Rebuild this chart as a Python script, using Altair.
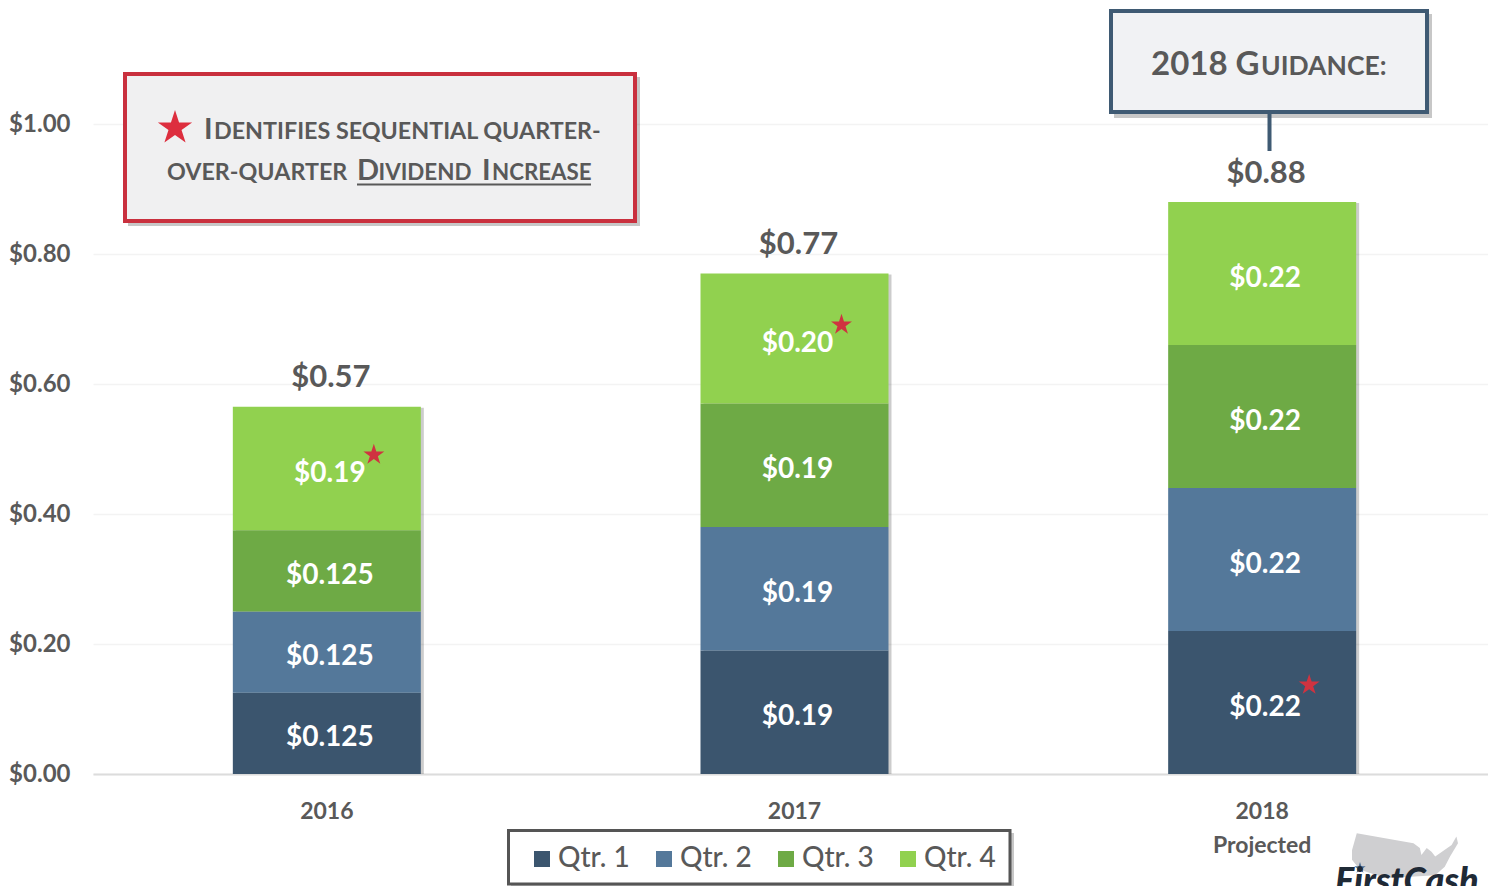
import altair as alt
import pandas as pd

# ---- data ----
years = ["2016", "2017", "2018"]
quarters = ["Qtr. 1", "Qtr. 2", "Qtr. 3", "Qtr. 4"]
q1 = [0.125, 0.19, 0.22]
q2 = [0.125, 0.19, 0.22]
q3 = [0.125, 0.19, 0.22]
q4 = [0.19, 0.20, 0.22]
label_q1 = ["$0.125", "$0.19", "$0.22"]
label_q2 = ["$0.125", "$0.19", "$0.22"]
label_q3 = ["$0.125", "$0.19", "$0.22"]
label_q4 = ["$0.19", "$0.20", "$0.22"]
totals = [0.565, 0.77, 0.88]
total_labels = ["$0.57", "$0.77", "$0.88"]
star_values = [0.491, 0.691, 0.137]
colors = ["#3b556e", "#54789a", "#6eaa45", "#91d14f"]
y_ticks = [0, 0.2, 0.4, 0.6, 0.8, 1.0]

FONT = "Lato"
GREY = "#595959"
RED = "#c9303e"
NAVY = "#3f5a73"
STAR = "M0,-1 L0.225,-0.309 L0.951,-0.309 L0.363,0.118 L0.588,0.809 L0,0.382 L-0.588,0.809 L-0.363,0.118 L-0.951,-0.309 L-0.225,-0.309 Z"
USMAP = ("M-.91,-.41 L-.35,-.31 L.16,-.22 L.28,-.13 L.31,0 L.41,-.13 L.5,-.06 L.57,.03 L.88,-.19 L.97,-.35 "
         "L1,-.22 L.85,.03 L.75,.22 L.57,.38 L-.35,.44 L-.85,.28 L-1,.09 L-1,-.09 Z")

PAD_L, PAD_T = 85, 0
W, H = 1395, 766
X0, Y0 = 8 + PAD_L, 8 + PAD_T


def px(v):
    return v - X0


def py(v):
    return v - Y0


rows = []
for qi, (q, vals, labs) in enumerate(zip(quarters, [q1, q2, q3, q4], [label_q1, label_q2, label_q3, label_q4])):
    for yi, yr in enumerate(years):
        base = sum(s[yi] for s in [q1, q2, q3, q4][:qi])
        rows.append(dict(year=yr, quarter=q, base=base, top=base + vals[yi], mid=base + vals[yi] / 2, label=labs[yi]))
df = pd.DataFrame(rows)
tot = pd.DataFrame(dict(year=years, total=totals, label=total_labels))
stars = pd.DataFrame(dict(year=years, v=star_values))

xs = alt.Scale(domain=years, range=[0, 1403], paddingInner=0, paddingOuter=0)
ys = alt.Scale(domain=[0, H / 650], nice=False)
x_enc = alt.X("year:N", scale=xs, title=None, sort=years, axis=alt.Axis(
    labelAngle=0, labelFont=FONT, labelFontSize=23, labelFontWeight="bold", labelColor=GREY,
    labelPadding=37, tickSize=0, domainColor="#dcdcdc", domainWidth=2, grid=False, labelLineHeight=34,
    labelBaseline="middle",
    labelExpr="datum.value == '2018' ? ['2018', 'Projected'] : datum.label"))
y_axis = alt.Axis(values=y_ticks, format="$.2f", labelFont=FONT, labelFontSize=24, labelFontWeight="bold",
                  labelColor=GREY, labelPadding=23, tickSize=0, domain=False, grid=True, gridColor="#f3f3f3",
                  gridWidth=1.5, title=None)


def box(x1, x2, y1, y2, **kw):
    return alt.Chart(pd.DataFrame({"a": [0]})).mark_rect(**kw).encode(
        x=alt.value(px(x1)), x2=alt.value(px(x2)), y=alt.value(py(y1)), y2=alt.value(py(y2)))


def txt(s, x, y, size, color=GREY, weight="bold", align="left", **kw):
    return alt.Chart(pd.DataFrame({"t": [s]})).mark_text(
        font=FONT, fontSize=size, fontWeight=weight, color=color, align=align, baseline="alphabetic", **kw
    ).encode(x=alt.value(px(x)), y=alt.value(py(y)), text="t:N")


def sym(path, x, y, r, color):
    return alt.Chart(pd.DataFrame({"a": [0]})).mark_point(
        shape=path, filled=True, color=color, opacity=1, size=(2 * r) ** 2, strokeWidth=0
    ).encode(x=alt.value(px(x)), y=alt.value(py(y)))


shadow = alt.Chart(tot).mark_bar(size=188, color="#000000", opacity=0.2, xOffset=3, yOffset=1).encode(
    x=x_enc, y=alt.Y("total:Q", scale=ys, axis=y_axis), y2=alt.Y2(datum=0))

bars = alt.Chart(df).mark_bar(size=188).encode(
    x=x_enc,
    y=alt.Y("base:Q", scale=ys, axis=y_axis),
    y2="top:Q",
    color=alt.Color("quarter:N", scale=alt.Scale(domain=quarters, range=colors), title=None, legend=alt.Legend(
        orient="none", legendX=px(515), legendY=py(832), direction="horizontal", columns=4,
        symbolType="square", symbolSize=256, symbolStrokeWidth=0, labelFont=FONT, labelFontSize=28,
        labelColor=GREY, labelFontWeight=500, labelOffset=2, columnPadding=20, padding=13)),
)

seg_labels = alt.Chart(df).mark_text(font=FONT, fontSize=28, fontWeight="bold", color="white", xOffset=3, yOffset=5).encode(
    x=x_enc, y=alt.Y("mid:Q", scale=ys), text="label:N")

total_text = alt.Chart(tot).mark_text(font=FONT, fontSize=31, fontWeight="bold", color=GREY, xOffset=4, yOffset=-28.5).encode(
    x=x_enc, y=alt.Y("total:Q", scale=ys), text="label:N")

star_marks = alt.Chart(stars).mark_point(shape=STAR, filled=True, color="#cf3340", opacity=1, size=484, strokeWidth=0, xOffset=47).encode(
    x=x_enc, y=alt.Y("v:Q", scale=ys))

logo_text = alt.Chart(pd.DataFrame({"t": ["FirstCash"]})).mark_text(
    font=FONT, fontSize=36, fontWeight=900, fontStyle="italic", color="#1f2a36", align="left", baseline="alphabetic"
).encode(x=alt.value(px(1335)), y=alt.value(py(893)), text="t:N")

layers = [
    shadow, bars, seg_labels, total_text, star_marks,
    # legend frame
    box(511, 1014, 833, 887, color="#000000", opacity=0.22),
    box(508.5, 1010, 830.5, 884, color="#ffffff", stroke="#555555", strokeWidth=3),
    # red key box
    box(128, 640, 77, 226, color="#000000", opacity=0.22),
    box(125, 635, 74, 221, color="#f0f0f1", stroke=RED, strokeWidth=4),
    sym(STAR, 175, 128, 18, "#dd2e3e"),
    txt("I", 204, 139, 29), txt("DENTIFIES SEQUENTIAL QUARTER-", 214, 139, 23.3),
    txt("OVER-QUARTER", 167, 180, 23.3),
    txt("D", 357, 180, 29), txt("IVIDEND", 378.5, 180, 22.4),
    txt("I", 482, 180, 29), txt("NCREASE", 492, 180, 22.3),
    box(357, 591, 183.5, 185.5, color=GREY),
    # guidance box
    box(1114, 1432, 14, 118, color="#000000", opacity=0.22),
    box(1111, 1427, 11, 112, color="#f1f2f4", stroke=NAVY, strokeWidth=4),
    box(1267.5, 1271.5, 113, 151, color=NAVY),
    txt("2018 G", 1151, 75, 33), txt("UIDANCE:", 1261, 75, 26.5),
    # logo
    sym(USMAP, 1405, 855, 53, "#cfcfd1"),
    sym(STAR, 1360, 868, 6, "#4f6f94"),
    logo_text,
]

chart = alt.layer(*layers).properties(
    width=W, height=H, autosize="none",
    padding={"left": PAD_L, "top": PAD_T, "right": 0, "bottom": 112},
    background="white",
).configure_view(stroke=None)

chart.save("out.html", embed_options={"renderer": "svg", "actions": False})
